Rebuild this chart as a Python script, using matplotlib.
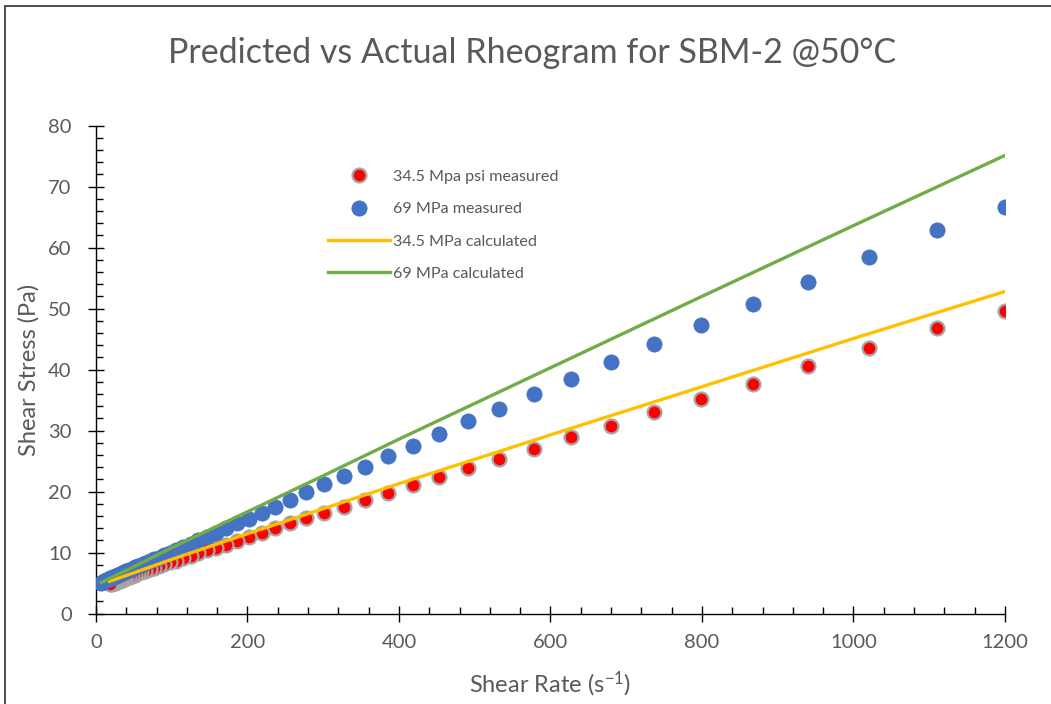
import numpy as np
import matplotlib
matplotlib.use('Agg')
import matplotlib.pyplot as plt
from matplotlib.ticker import MultipleLocator
from matplotlib.patches import Rectangle

plt.rcParams['font.family'] = ['Lato', 'DejaVu Sans']
plt.rcParams['mathtext.default'] = 'regular'

# measured shear rate (1/s) and shear stress (Pa)
rate_345 = [1200, 1110, 1020, 940, 867, 799, 737, 680, 627, 578, 532, 491, 453, 418, 385,
            355, 328, 301, 277, 256, 237, 219, 202, 186, 172, 159, 146, 135, 125, 115,
            106, 98, 90, 83, 77, 71, 65, 60, 56, 51, 47, 44, 40, 37, 34, 32, 29, 27,
            25, 23, 21, 19]
stress_345 = [49.6, 46.8, 43.5, 40.6, 37.7, 35.2, 33.0, 30.8, 28.9, 27.0, 25.4, 23.8, 22.4,
              21.1, 19.8, 18.6, 17.5, 16.5, 15.6, 14.8, 14.0, 13.2, 12.5, 11.9, 11.3, 10.8,
              10.4, 9.9, 9.5, 9.1, 8.7, 8.4, 8.1, 7.8, 7.5, 7.3, 7.0, 6.8, 6.6, 6.4, 6.2,
              6.0, 5.8, 5.7, 5.5, 5.4, 5.3, 5.2, 5.1, 5.0, 4.9, 4.8]

rate_69 = [1200, 1110, 1020, 940, 867, 799, 737, 680, 627, 578, 532, 491, 453, 418, 385,
           355, 328, 301, 277, 256, 237, 219, 202, 186, 172, 159, 146, 135, 125, 115,
           106, 98, 90, 83, 77, 71, 65, 60, 56, 51, 47, 44, 40, 37, 34, 32, 29, 27,
           25, 23, 21, 19, 17, 15, 13, 11, 9, 7]
stress_69 = [66.6, 62.9, 58.4, 54.4, 50.7, 47.3, 44.2, 41.2, 38.5, 36.0, 33.6, 31.5, 29.5,
             27.5, 25.9, 24.1, 22.6, 21.3, 19.9, 18.6, 17.5, 16.5, 15.5, 14.8, 14.0, 13.3,
             12.6, 12.0, 11.4, 10.9, 10.4, 10.0, 9.6, 9.2, 8.9, 8.6, 8.3, 8.0, 7.8, 7.6,
             7.4, 7.2, 7.0, 6.8, 6.7, 6.5, 6.4, 6.2, 6.1, 6.0, 5.9, 5.8, 5.7, 5.6, 5.5,
             5.4, 5.2, 5.0]

# model predictions
calc_rate_345 = [18, 50, 100, 200, 300, 400, 600, 800, 1000, 1200]
calc_stress_345 = [5.3, 6.7, 8.9, 13.1, 17.2, 21.3, 29.3, 37.2, 45.1, 52.8]
calc_rate_69 = [7, 50, 100, 200, 300, 400, 600, 800, 1000, 1200]
calc_stress_69 = [5.1, 7.7, 10.8, 16.7, 22.6, 28.6, 40.3, 52.0, 63.6, 75.1]

grey = '#595959'

fig = plt.figure(figsize=(10.51, 7.04), dpi=100)
ax = fig.add_axes([0.0913, 0.1283, 0.8649, 0.6934])

ax.plot(rate_345, stress_345, 'o', color='#FF0000', ms=10, mec='#A5A5A5', mew=1.6,
        label='34.5 Mpa psi measured', zorder=3)
ax.plot(rate_69, stress_69, 'o', color='#4472C4', ms=11, mec='#4472C4', mew=0.5,
        label='69 MPa measured', zorder=4)
ax.plot(calc_rate_345, calc_stress_345, '-', color='#FFC000', lw=2.4,
        label='34.5 MPa calculated', zorder=5)
ax.plot(calc_rate_69, calc_stress_69, '-', color='#70AD47', lw=2.4,
        label='69 MPa calculated', zorder=5)

ax.set_xlim(0, 1200)
ax.set_ylim(0, 80)
ax.xaxis.set_major_locator(MultipleLocator(200))
ax.xaxis.set_minor_locator(MultipleLocator(40))
ax.yaxis.set_major_locator(MultipleLocator(10))
ax.yaxis.set_minor_locator(MultipleLocator(2))
ax.tick_params(which='major', direction='inout', length=11, width=1, color='black',
               labelsize=14.5, labelcolor=grey)
ax.tick_params(axis='x', which='major', pad=9)
ax.tick_params(axis='y', which='major', pad=12)
ax.tick_params(which='minor', direction='in', length=5, width=1, color='black')

for s in ['top', 'right']:
    ax.spines[s].set_visible(False)
for s in ['left', 'bottom']:
    ax.spines[s].set_linewidth(1)
    ax.spines[s].set_color('black')

ax.set_xlabel('Shear Rate (s$^{-1}$)', fontsize=17, color=grey, labelpad=13.5)
ax.set_ylabel('Shear Stress (Pa)', fontsize=17, color=grey, labelpad=6)
fig.suptitle('Predicted vs Actual Rheogram for SBM-2 @50°C', fontsize=24.5, color=grey,
             x=0.506, y=0.948)

leg = ax.legend(loc='upper left', bbox_to_anchor=(0.239, 0.939), frameon=False,
                fontsize=11.6, labelcolor=grey, handlelength=3.85, handletextpad=0.2,
                labelspacing=1.12)

# outer chart border
fig.patches.append(Rectangle((5 / 1051, -0.5), 2, 1.5 - 6 / 704, transform=fig.transFigure,
                             fill=False, edgecolor='#404040', lw=1.3))

fig.savefig('out.png', dpi=100)
